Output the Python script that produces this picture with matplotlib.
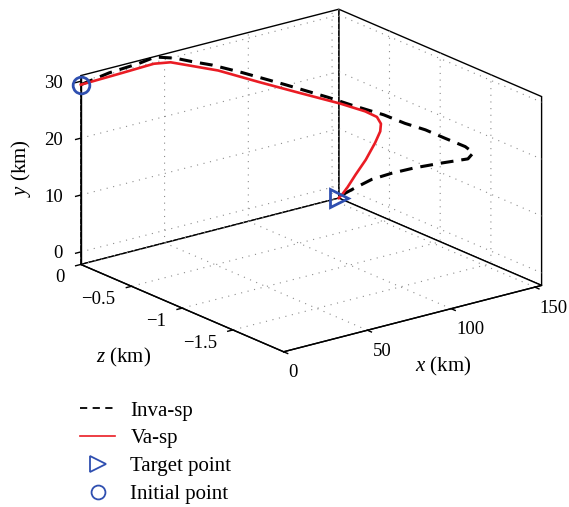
import numpy as np
import matplotlib
matplotlib.use("Agg")
import matplotlib.pyplot as plt
from matplotlib.lines import Line2D

plt.rcParams['font.family'] = ['Liberation Serif', 'DejaVu Serif']
plt.rcParams['mathtext.fontset'] = 'custom'
plt.rcParams['mathtext.rm'] = 'Liberation Serif'
plt.rcParams['mathtext.it'] = 'Liberation Serif:italic'

# ---------------- data (x: downrange km, z: lateral km, y: altitude km) ----------------
va_x = [0, 22, 43, 53, 62, 76, 94, 110, 124, 131, 135, 138, 140, 143, 146.5, 149.5, 152, 153.3, 154]
va_z = [0, -0.01, -0.01, -0.01, -0.04, -0.10, -0.20, -0.33, -0.51, -0.64, -0.69, -0.68, -0.64,
        -0.54, -0.39, -0.24, -0.12, -0.05, 0]
va_y = [29.4, 29.7, 29.9, 29.4, 28.4, 26.9, 24.3, 22.2, 20.6, 19.7, 18.8, 17.3, 15.5, 12.5,
        8.1, 4.1, 0.8, -1.0, -2.2]

inva_x = [0, 17, 34.5, 44.4, 56.3, 65, 76, 90, 108, 120, 125, 130, 133, 135.5, 137.5, 139.3,
          140.5, 141.5, 143.5, 145.5, 147.5, 149.5, 151.5, 153, 154]
inva_z = [0, 0, 0, 0, 0, -0.02, -0.04, -0.10, -0.23, -0.46, -0.61, -0.84, -1.00, -1.16, -1.32,
          -1.49, -1.55, -1.48, -1.19, -0.89, -0.63, -0.40, -0.20, -0.08, 0]
inva_y = [29.4, 30.2, 30.5, 30.9, 29.8, 28.7, 27.4, 25.5, 23.0, 21.6, 21.0, 20.7, 20.2, 20.1,
          19.7, 19.4, 18.7, 17.0, 13.9, 10.6, 7.5, 4.5, 1.3, -0.65, -2.2]

initial_point = (0, 0, 29.4)      # (x, z, y)
target_point = (154, 0, -2.2)

x_lim = (0, 154)
z_lim = (-2.0, 0)
y_lim = (-2.2, 31.0)
x_ticks = [0, 50, 100, 150]
x_ticklabels = ['0', '50', '100', '150']
z_ticks = [0, -0.5, -1, -1.5]
z_ticklabels = ['0', '\u22120.5', '\u22121', '\u22121.5']
y_ticks = [0, 10, 20, 30]
y_ticklabels = ['0', '10', '20', '30']

RED = '#ea1c24'
BLUE = '#2f4fb0'
TICK_FS = 13.5

W_PX, H_PX = 569, 507
fig = plt.figure(figsize=(W_PX / 100, H_PX / 100), dpi=100)
ax = fig.add_axes([0, 0, 1, 1], projection='3d')
ax.set_proj_type('ortho')
ax.computed_zorder = False

# plotting: matplotlib X = x, matplotlib Y = z, matplotlib Z (vertical) = y
ax.plot(inva_x, inva_z, inva_y, color='black', lw=2.2, dashes=(4.2, 2.6), zorder=3)
ax.plot(va_x, va_z, va_y, color=RED, lw=1.9, zorder=4)
ax.plot([target_point[0]], [target_point[1]], [target_point[2]], ls='none', marker='>',
        ms=13, mfc='none', mec=BLUE, mew=2.0, zorder=5)
ax.plot([initial_point[0]], [initial_point[1]], [initial_point[2]], ls='none', marker='o',
        ms=12, mfc='none', mec=BLUE, mew=2.0, zorder=5)

ax.set_xlim(*x_lim)
ax.set_ylim(*z_lim)
ax.set_zlim(*y_lim)
ax.set_xticks(x_ticks)
ax.set_yticks(z_ticks)
ax.set_zticks(y_ticks)
ax.view_init(elev=19.44, azim=-127.7)
ax.set_box_aspect((1.628, 1.656, 1.0))

for axis in (ax.xaxis, ax.yaxis, ax.zaxis):
    axis.set_pane_color((1, 1, 1, 1))
    axis.pane.set_closed(True)
    axis.pane.set_edgecolor('black')
    axis.pane.set_linewidth(1.0)
    axis.line.set_color('black')
    axis.line.set_linewidth(1.0)
    axis._axinfo['grid'].update(color='#8c8c8c', linewidth=0.8, linestyle=(0, (1, 5)))
    axis._axinfo['tick'].update(inward_factor=0.25, outward_factor=0.0)
    axis._axinfo['tick']['linewidth'] = {True: 1.0, False: 0.5}
    axis._axinfo['axisline']['color'] = 'black'
    axis._axinfo['axisline']['linewidth'] = 1.0
    axis.label.set_visible(False)
    axis.offsetText.set_visible(False)
    for t in axis.get_major_ticks():
        t.label1.set_visible(False)
        t.label2.set_visible(False)
ax.tick_params(axis='both', colors='black', labelleft=False, labelbottom=False)
ax.tick_params(axis='z', colors='black')


def project(xs, zs, ys):
    """Project data points (x, z, y) to display pixels."""
    vec = np.vstack([np.asarray(xs, float), np.asarray(zs, float), np.asarray(ys, float),
                     np.ones(len(xs))])
    pv = ax.M @ vec
    return ax.transData.transform(np.column_stack([pv[0] / pv[3], pv[1] / pv[3]]))


# ---- fit projected box into the target pixel region ----
fig.canvas.draw()
cx, cy, cz = [], [], []
for a in x_lim:
    for b in z_lim:
        for c in y_lim:
            cx.append(a); cy.append(b); cz.append(c)
disp = project(cx, cy, cz)
wc = np.ptp(disp[:, 0]); hc = np.ptp(disp[:, 1])
cc = np.array([(disp[:, 0].max() + disp[:, 0].min()) / 2, (disp[:, 1].max() + disp[:, 1].min()) / 2])
pos = ax.get_position()
S = pos.width * W_PX
ac = np.array([(pos.x0 + pos.width / 2) * W_PX, (pos.y0 + pos.height / 2) * H_PX])
tw, th = 461.0, 342.4
f = 0.5 * (tw / wc + th / hc)
dc = np.array([311.2, H_PX - 180.5])
an = dc - f * (cc - ac)
Sn = S * f
ax.set_position([(an[0] - Sn / 2) / W_PX, (an[1] - Sn / 2) / H_PX, Sn / W_PX, Sn / H_PX])
fig.canvas.draw()

# ---- MATLAB-style tick labels ----
p = project(x_ticks, [z_lim[0]] * len(x_ticks), [y_lim[0]] * len(x_ticks))
for (px, py), lab in zip(p, x_ticklabels):
    fig.text((px + 5) / W_PX, (py - 21) / H_PX, lab, ha='left', va='center', fontsize=TICK_FS)
p = project([x_lim[0]] * len(z_ticks), z_ticks, [y_lim[0]] * len(z_ticks))
for (px, py), lab in zip(p, z_ticklabels):
    fig.text((px - 16) / W_PX, (py - 13.5) / H_PX, lab, ha='right', va='center', fontsize=TICK_FS)
p = project([x_lim[0]] * len(y_ticks), [z_lim[1]] * len(y_ticks), y_ticks)
for (px, py), lab in zip(p, y_ticklabels):
    fig.text((px - 17.7) / W_PX, (py - 2) / H_PX, lab, ha='right', va='center', fontsize=TICK_FS)

# axis labels
fig.text(443 / W_PX, 1 - 366 / H_PX, '$x$ (km)', ha='center', va='center', fontsize=15)
fig.text(124 / W_PX, 1 - 357 / H_PX, '$z$ (km)', ha='center', va='center', fontsize=15)
fig.text(21 / W_PX, 1 - 168 / H_PX, '$y$ (km)', ha='center', va='center', fontsize=15, rotation=90)

handles = [
    Line2D([], [], color='black', lw=1.3, dashes=(4, 3)),
    Line2D([], [], color=RED, lw=1.2),
    Line2D([], [], ls='none', marker='>', ms=11, mfc='none', mec=BLUE, mew=1.3),
    Line2D([], [], ls='none', marker='o', ms=10, mfc='none', mec=BLUE, mew=1.3),
]
labels = ['Inva-sp', 'Va-sp', 'Target point', 'Initial point']
fig.legend(handles, labels, loc='upper left', bbox_to_anchor=(80 / W_PX, 1 - 401 / H_PX),
           frameon=False, fontsize=15, borderpad=0, borderaxespad=0, handlelength=1.7,
           handletextpad=0.72, labelspacing=0.4)

fig.savefig('out.png', dpi=100)
